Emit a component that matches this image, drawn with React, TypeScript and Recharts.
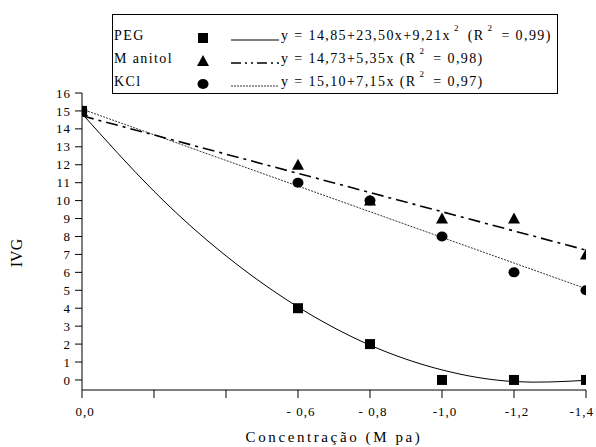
import React from 'react'
import { ComposedChart, Line, Scatter, XAxis, YAxis } from 'recharts'

// observed IVG per concentration (MPa)
const concentrations = [0, -0.6, -0.8, -1.0, -1.2, -1.4]
const pegIvg = [15, 4, 2, 0, 0, 0]
const manitolIvg = [15, 12, 10, 9, 9, 7]
const kclIvg = [15, 11, 10, 8, 6, 5]

// fitted curves
const pegFitX = [0, -0.2, -0.4, -0.6, -0.8, -1.0, -1.2, -1.4]
const pegFitY = [14.85, 10.52, 6.92, 4.07, 1.94, 0.56, -0.09, -0.02]
const linFitX = [0, -1.4]
const manitolFitY = [14.73, 7.24]
const kclFitY = [15.1, 5.09]

const xTicks = [0, -0.2, -0.4, -0.6, -0.8, -1.0, -1.2, -1.4]
const xTickLabels = ['0,0', '', '', '- 0,6', '- 0,8', '-1,0', '-1,2', '-1,4']
const yTicks = [0, 1, 2, 3, 4, 5, 6, 7, 8, 9, 10, 11, 12, 13, 14, 15, 16]

const zip = (xs: number[], ys: number[]) => xs.map((x, i) => ({ x, y: ys[i] }))

const FONT = "'Liberation Serif', 'DejaVu Serif', serif"

const Square = ({ cx, cy }: any) => <rect x={cx - 5} y={cy - 5} width={10} height={10} fill="#000" />
const Triangle = ({ cx, cy }: any) => (
  <polygon points={`${cx},${cy - 6} ${cx - 6},${cy + 5} ${cx + 6},${cy + 5}`} fill="#000" />
)
const Dot = ({ cx, cy }: any) => <ellipse cx={cx} cy={cy} rx={5.5} ry={5} fill="#000" />

const XTick = ({ x, y, payload, index }: any) => {
  const i = xTicks.findIndex((t) => Math.abs(t - payload.value) < 1e-6)
  const last = i === xTicks.length - 1
  return (
    <text
      x={last ? x + 8 : x + 3}
      y={y + 12}
      textAnchor={last ? 'end' : 'middle'}
      style={{ fontFamily: FONT, fontSize: 13, fill: '#000', letterSpacing: 1 }}
    >
      {i >= 0 ? xTickLabels[i] : ''}
    </text>
  )
}

const sup = { fontSize: 9, position: 'relative' as const, top: -9, marginLeft: 3, marginRight: 3 }

function LegendBox() {
  const rows = [
    { name: 'PEG', mark: 'sq', dash: undefined, width: 1 },
    { name: 'M anitol', mark: 'tri', dash: '10 4 2 4 2 4', width: 1.6 },
    { name: 'KCl', mark: 'dot', dash: '2 1', width: 0.8 },
  ]
  const eqs = [
    <span>y = 14,85+23,50x+9,21x<span style={sup}>2</span> (R<span style={sup}>2</span> = 0,99)</span>,
    <span>y = 14,73+5,35x (R<span style={sup}>2</span> = 0,98)</span>,
    <span>y = 15,10+7,15x (R<span style={sup}>2</span> = 0,97)</span>,
  ]
  return (
    <div
      style={{
        position: 'absolute', left: 112, top: 14, width: 446, height: 80,
        border: '1px solid #000', fontFamily: FONT, fontSize: 14, letterSpacing: 1.4, color: '#000',
        boxSizing: 'border-box', background: '#fff',
      }}
    >
      {rows.map((r, i) => (
        <div key={r.name} style={{ position: 'absolute', top: 13 + i * 23, left: 0, height: 18, width: '100%' }}>
          <span style={{ position: 'absolute', left: 1, top: 0 }}>{r.name}</span>
          <svg style={{ position: 'absolute', left: 82, top: 3 }} width={16} height={14}>
            {r.mark === 'sq' && <rect x={3} y={2} width={10} height={10} fill="#000" />}
            {r.mark === 'tri' && <polygon points="8,1 2,12 14,12" fill="#000" />}
            {r.mark === 'dot' && <ellipse cx={8} cy={7} rx={5.5} ry={5} fill="#000" />}
          </svg>
          <svg style={{ position: 'absolute', left: 118, top: 3 }} width={48} height={14}>
            <line x1={0} y1={9} x2={48} y2={9} stroke="#000" strokeWidth={r.width} strokeDasharray={r.dash} />
          </svg>
          <span style={{ position: 'absolute', left: 168, top: 0, whiteSpace: 'nowrap' }}>{eqs[i]}</span>
        </div>
      ))}
    </div>
  )
}

export default function App() {
  const tickStyle = { fontFamily: FONT, fontSize: 13, fill: '#000', letterSpacing: 1 }
  return (
    <div style={{ position: 'absolute', left: 0, top: 0, width: 596, height: 447, background: '#fff', fontFamily: FONT }}>
      <ComposedChart width={596} height={447} margin={{ top: 93, right: 10, bottom: 0, left: 0 }} style={{ fontFamily: FONT }}>
        <XAxis
          type="number"
          dataKey="x"
          domain={[-1.4, 0]}
          reversed
          ticks={xTicks}
          interval={0}
          tick={<XTick />}
          tickSize={8}
          tickMargin={6}
          height={57}
          stroke="#000"
          allowDataOverflow
          label={{
            value: 'Concentração (M pa)', position: 'insideBottom', offset: 5,
            style: { fontFamily: FONT, fontSize: 15, fill: '#000', letterSpacing: 2.6 },
          }}
        />
        <YAxis
          type="number"
          dataKey="y"
          domain={[-0.56, 16]}
          ticks={yTicks}
          interval={0}
          tick={tickStyle}
          tickSize={7}
          tickMargin={4}
          width={82}
          stroke="#000"
          allowDataOverflow
          label={() => (
            <text
              x={22}
              y={253}
              transform="rotate(-90 22 253)"
              textAnchor="middle"
              style={{ fontFamily: FONT, fontSize: 16, fill: '#000' }}
            >
              IVG
            </text>
          )}
        />
        <Line data={zip(pegFitX, pegFitY)} dataKey="y" type="natural" stroke="#000" strokeWidth={1} dot={false} isAnimationActive={false} />
        <Line data={zip(linFitX, manitolFitY)} dataKey="y" type="linear" stroke="#000" strokeWidth={1.6} strokeDasharray="12 5 3 5" dot={false} isAnimationActive={false} />
        <Line data={zip(linFitX, kclFitY)} dataKey="y" type="linear" stroke="#000" strokeWidth={0.8} strokeDasharray="2 1.2" dot={false} isAnimationActive={false} />
        <Scatter data={zip(concentrations, pegIvg)} shape={Square} isAnimationActive={false} />
        <Scatter data={zip(concentrations, manitolIvg)} shape={Triangle} isAnimationActive={false} />
        <Scatter data={zip(concentrations, kclIvg)} shape={Dot} isAnimationActive={false} />
      </ComposedChart>
      <LegendBox />
    </div>
  )
}
